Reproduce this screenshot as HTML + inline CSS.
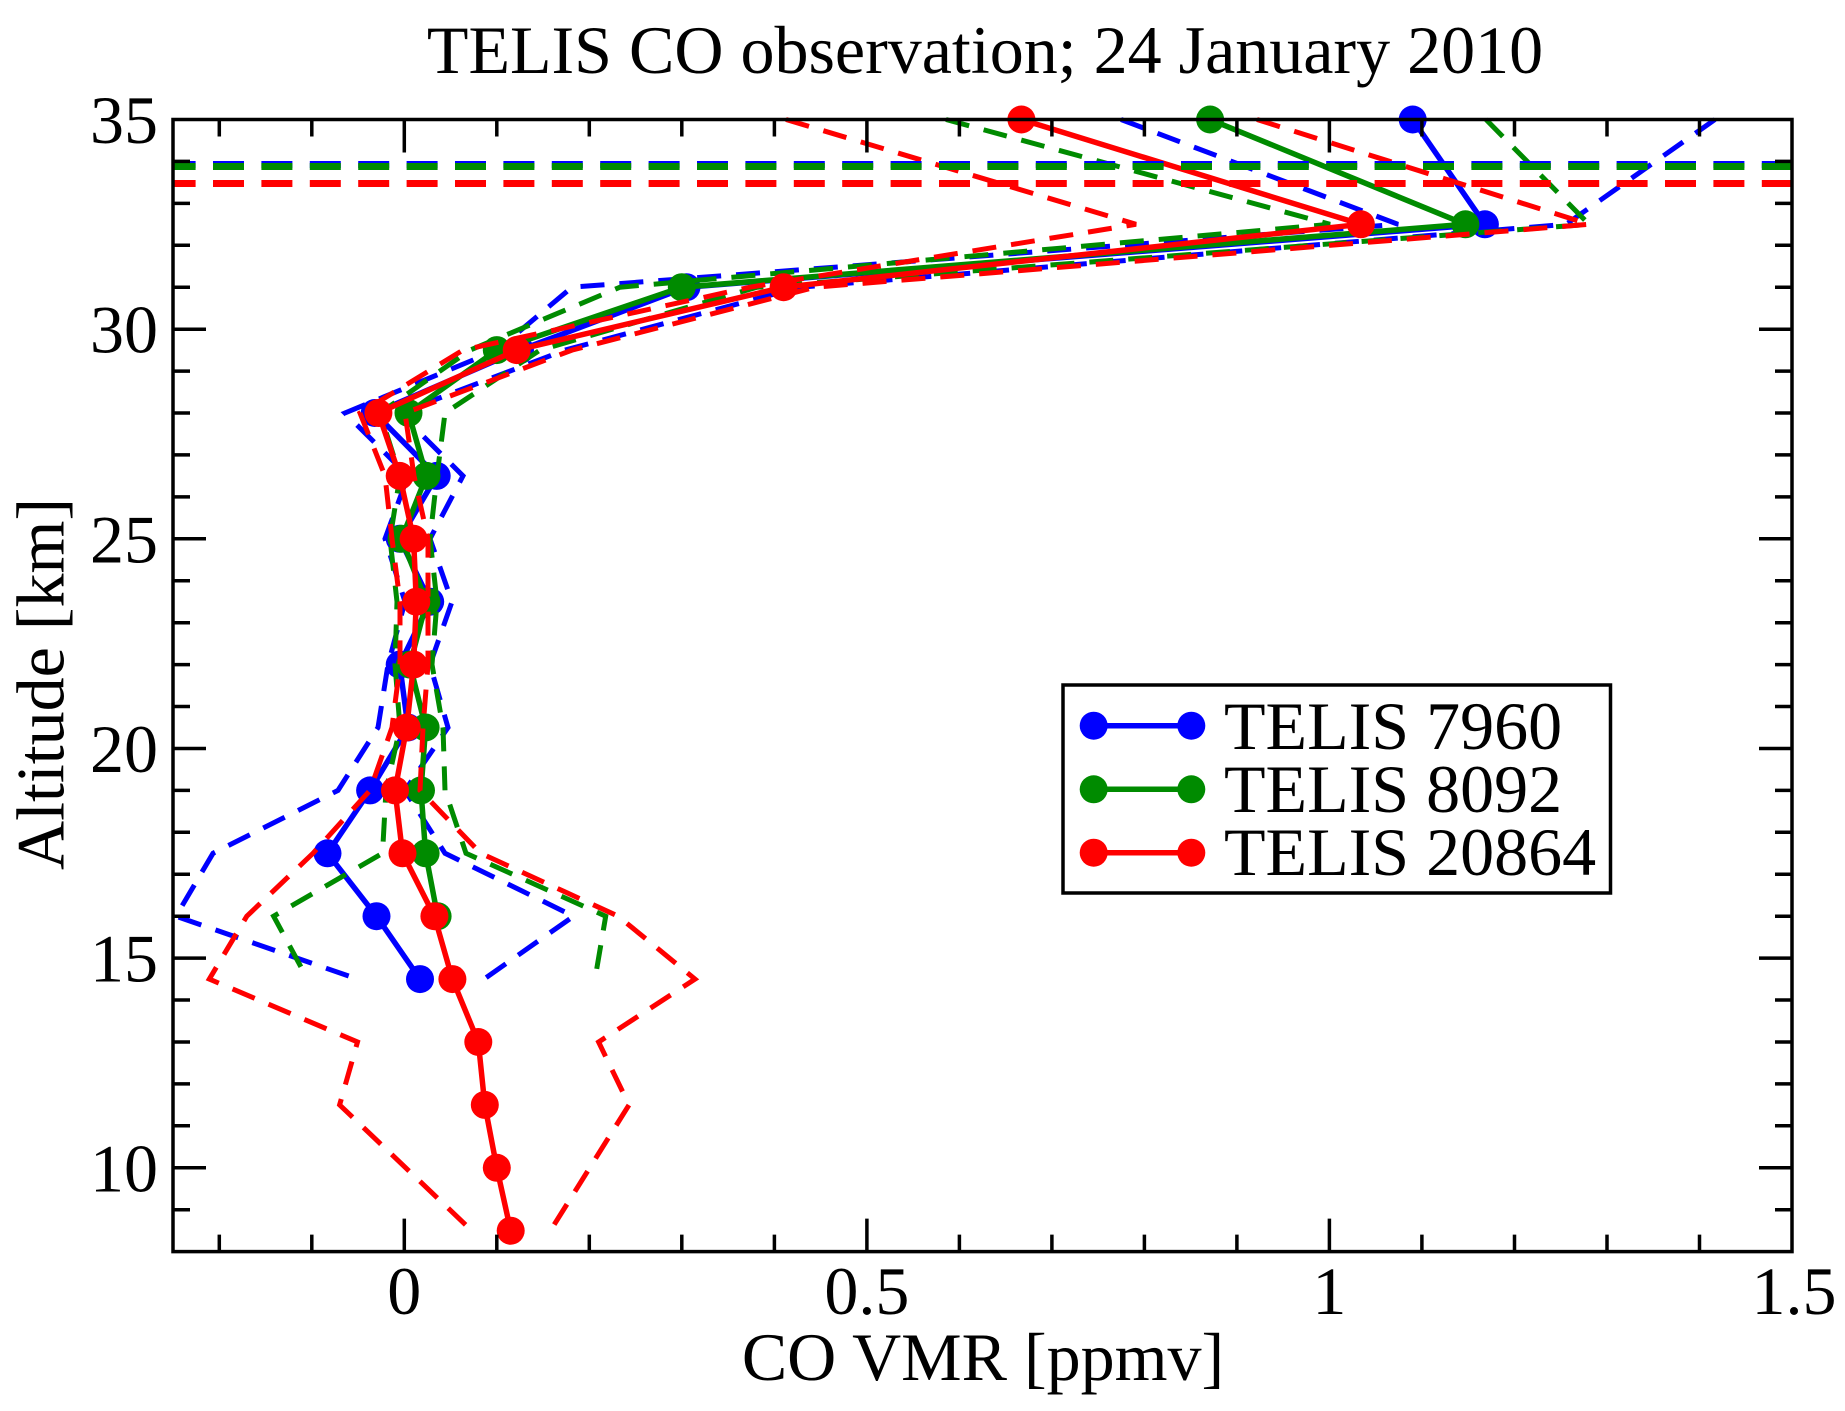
<!DOCTYPE html>
<html>
<head>
<meta charset="utf-8">
<style>
  html, body { margin: 0; padding: 0; background: #ffffff; }
  svg { display: block; }
  text { font-family: "Liberation Serif", "DejaVu Serif", serif; fill: #000; }
</style>
</head>
<body>
<svg width="1845" height="1411" viewBox="0 0 1845 1411" xmlns="http://www.w3.org/2000/svg">
  <rect x="0" y="0" width="1845" height="1411" fill="#ffffff"/>

  <!-- Title -->
  <text x="985" y="73" font-size="68" text-anchor="middle">TELIS CO observation; 24 January 2010</text>

  <!-- Data: BLUE -->
  <g fill="none" stroke="#0000ff" stroke-linejoin="miter" stroke-linecap="butt">
    <polyline stroke-width="5" stroke-dasharray="24 15" points="1121,119.5 1398,224.3 572,287.2 497,350.1 345,413 408,475.9 385,538.8 405,601.7 388,664.6 378,727.5 338,790.4 213,853.3 176,916.2 357.5,979.1"/>
    <polyline stroke-width="5" stroke-dasharray="24 15" points="1715,119.5 1566,224.3 800,287.2 565,350.1 400,413 463,475.9 430,538.8 452,601.7 430,664.6 448,727.5 405,790.4 445,853.3 573.6,916.2 484,979.1"/>
    <polyline stroke-width="5.5" points="1412.7,119.5 1484.9,224.3 686.5,287.2 520,350.1 374.7,413 436.7,475.9 399.7,538.8 430.2,601.7 399.7,664.6 408,727.5 370.1,790.4 327.5,853.3 376.5,916.2 420,979.1"/>
  </g>
  <g fill="#0000ff">
    <circle cx="1412.7" cy="119.5" r="14"/><circle cx="1484.9" cy="224.3" r="14"/><circle cx="686.5" cy="287.2" r="14"/>
    <circle cx="520" cy="350.1" r="14"/><circle cx="374.7" cy="413" r="14"/><circle cx="436.7" cy="475.9" r="14"/>
    <circle cx="399.7" cy="538.8" r="14"/><circle cx="430.2" cy="601.7" r="14"/><circle cx="399.7" cy="664.6" r="14"/>
    <circle cx="408" cy="727.5" r="14"/><circle cx="370.1" cy="790.4" r="14"/><circle cx="327.5" cy="853.3" r="14"/>
    <circle cx="376.5" cy="916.2" r="14"/><circle cx="420" cy="979.1" r="14"/>
  </g>

  <!-- Data: GREEN -->
  <g fill="none" stroke="#008b00" stroke-linejoin="miter" stroke-linecap="butt">
    <polyline stroke-width="5" stroke-dasharray="24 15" points="946,119.5 1330,224.3 620,287.2 470,350.1 380,413 400,475.9 390,538.8 397,601.7 395,664.6 400,727.5 386,790.4 382.5,853.3 273.6,916.2 307.5,979.1"/>
    <polyline stroke-width="5" stroke-dasharray="24 15" points="1486,119.5 1589,224.3 757,287.2 540,350.1 445,413 437,475.9 430,538.8 437,601.7 432,664.6 443,727.5 445,790.4 466,853.3 605.7,916.2 595,979.1"/>
    <polyline stroke-width="5.5" points="1210.1,119.5 1465.4,224.3 681.8,287.2 496.8,350.1 408.5,413 426.5,475.9 401.5,538.8 426.5,601.7 409.9,664.6 425.6,727.5 421,790.4 425.6,853.3 437.6,916.2"/>
  </g>
  <g fill="#008b00">
    <circle cx="1210.1" cy="119.5" r="14"/><circle cx="1465.4" cy="224.3" r="14"/><circle cx="681.8" cy="287.2" r="14"/>
    <circle cx="496.8" cy="350.1" r="14"/><circle cx="408.5" cy="413" r="14"/><circle cx="426.5" cy="475.9" r="14"/>
    <circle cx="401.5" cy="538.8" r="14"/><circle cx="426.5" cy="601.7" r="14"/><circle cx="409.9" cy="664.6" r="14"/>
    <circle cx="425.6" cy="727.5" r="14"/><circle cx="421" cy="790.4" r="14"/><circle cx="425.6" cy="853.3" r="14"/>
    <circle cx="437.6" cy="916.2" r="14"/>
  </g>

  <!-- Data: RED -->
  <g fill="none" stroke="#ff0000" stroke-linejoin="miter" stroke-linecap="butt">
    <polyline stroke-width="5" stroke-dasharray="24 15" points="786,119.5 1136,224.3 750,287.2 463,350.1 360,413 385,475.9 392,538.8 400,601.7 400,664.6 392,727.5 370,790.4 313,853.3 246.8,916.2 209.3,979.1 357.5,1042 339.6,1104.9 405.7,1167.8 471.8,1230.7"/>
    <polyline stroke-width="5" stroke-dasharray="24 15" points="1257,119.5 1589,224.3 815,287.2 572,350.1 405,413 414,475.9 428,538.8 428,601.7 428,664.6 423,727.5 420,790.4 480.7,853.3 618.2,916.2 695,979.1 598.6,1042 629,1104.9 589.7,1167.8 550.4,1230.7"/>
    <polyline stroke-width="5.5" points="1021.4,119.5 1360.9,224.3 783.6,287.2 516.7,350.1 378.4,413 399.7,475.9 413.6,538.8 416.3,601.7 413.6,664.6 406.7,727.5 395,790.4 402.5,853.3 434.4,916.2 452.4,979.1 478.3,1042 484.8,1104.9 496.8,1167.8 510.7,1230.7"/>
  </g>
  <g fill="#ff0000">
    <circle cx="1021.4" cy="119.5" r="14"/><circle cx="1360.9" cy="224.3" r="14"/><circle cx="783.6" cy="287.2" r="14"/>
    <circle cx="516.7" cy="350.1" r="14"/><circle cx="378.4" cy="413" r="14"/><circle cx="399.7" cy="475.9" r="14"/>
    <circle cx="413.6" cy="538.8" r="14"/><circle cx="416.3" cy="601.7" r="14"/><circle cx="413.6" cy="664.6" r="14"/>
    <circle cx="406.7" cy="727.5" r="14"/><circle cx="395" cy="790.4" r="14"/><circle cx="402.5" cy="853.3" r="14"/>
    <circle cx="434.4" cy="916.2" r="14"/><circle cx="452.4" cy="979.1" r="14"/><circle cx="478.3" cy="1042" r="14"/>
    <circle cx="484.8" cy="1104.9" r="14"/><circle cx="496.8" cy="1167.8" r="14"/><circle cx="510.7" cy="1230.7" r="14"/>
  </g>

  <!-- Horizontal dashed lines -->
  <g stroke-width="7" stroke-dasharray="31 17.4" stroke-dashoffset="8.4" fill="none">
    <line x1="173" y1="164.5" x2="1792" y2="164.5" stroke="#0000ff"/>
    <line x1="173" y1="166.5" x2="1792" y2="166.5" stroke="#008b00"/>
    <line x1="173" y1="183.5" x2="1792" y2="183.5" stroke="#ff0000"/>
  </g>

  <!-- Axes frame -->
  <rect x="173" y="119.5" width="1619" height="1132.1" fill="none" stroke="#000" stroke-width="3.5"/>

  <!-- Ticks -->
  <g stroke="#000" stroke-width="3.5" fill="none">
    <!-- left -->
    <path d="M173 329.2h33 M173 538.8h33 M173 748.5h33 M173 958.1h33 M173 1167.8h33
             M173 161.4h17 M173 203.4h17 M173 245.3h17 M173 287.2h17
             M173 371.1h17 M173 413h17 M173 454.9h17 M173 496.9h17
             M173 580.7h17 M173 622.7h17 M173 664.6h17 M173 706.5h17
             M173 790.4h17 M173 832.3h17 M173 874.2h17 M173 916.2h17
             M173 1000h17 M173 1042h17 M173 1083.9h17 M173 1125.8h17 M173 1209.7h17"/>
    <!-- right -->
    <path d="M1792 329.2h-33 M1792 538.8h-33 M1792 748.5h-33 M1792 958.1h-33 M1792 1167.8h-33
             M1792 161.4h-17 M1792 203.4h-17 M1792 245.3h-17 M1792 287.2h-17
             M1792 371.1h-17 M1792 413h-17 M1792 454.9h-17 M1792 496.9h-17
             M1792 580.7h-17 M1792 622.7h-17 M1792 664.6h-17 M1792 706.5h-17
             M1792 790.4h-17 M1792 832.3h-17 M1792 874.2h-17 M1792 916.2h-17
             M1792 1000h-17 M1792 1042h-17 M1792 1083.9h-17 M1792 1125.8h-17 M1792 1209.7h-17"/>
    <!-- bottom -->
    <path d="M404.3 1251.6v-33 M866.9 1251.6v-33 M1329.4 1251.6v-33
             M219.3 1251.6v-17 M311.8 1251.6v-17 M496.8 1251.6v-17 M589.3 1251.6v-17
             M681.8 1251.6v-17 M774.4 1251.6v-17 M959.4 1251.6v-17 M1051.9 1251.6v-17
             M1144.4 1251.6v-17 M1236.9 1251.6v-17 M1421.9 1251.6v-17 M1514.5 1251.6v-17
             M1607 1251.6v-17 M1699.5 1251.6v-17"/>
    <!-- top -->
    <path d="M404.3 119.5v33 M866.9 119.5v33 M1329.4 119.5v33
             M219.3 119.5v17 M311.8 119.5v17 M496.8 119.5v17 M589.3 119.5v17
             M681.8 119.5v17 M774.4 119.5v17 M959.4 119.5v17 M1051.9 119.5v17
             M1144.4 119.5v17 M1236.9 119.5v17 M1421.9 119.5v17 M1514.5 119.5v17
             M1607 119.5v17 M1699.5 119.5v17"/>
  </g>

  <!-- Y tick labels -->
  <g font-size="68" text-anchor="end">
    <text x="158" y="143">35</text>
    <text x="158" y="352.7">30</text>
    <text x="158" y="562.3">25</text>
    <text x="158" y="772">20</text>
    <text x="158" y="981.6">15</text>
    <text x="158" y="1191.3">10</text>
  </g>

  <!-- X tick labels -->
  <g font-size="68" text-anchor="middle">
    <text x="404.3" y="1314">0</text>
    <text x="866.9" y="1314">0.5</text>
    <text x="1329.4" y="1314">1</text>
    <text x="1794" y="1314">1.5</text>
  </g>

  <!-- Axis titles -->
  <text x="983" y="1380" font-size="68" text-anchor="middle">CO VMR [ppmv]</text>
  <text transform="translate(63.5,684) rotate(-90)" x="0" y="0" font-size="68" text-anchor="middle">Altitude [km]</text>

  <!-- Legend -->
  <rect x="1063" y="685" width="547.5" height="208" fill="#ffffff" stroke="#000" stroke-width="3.5"/>
  <g stroke-width="5.5">
    <line x1="1093.7" y1="725.7" x2="1191.3" y2="725.7" stroke="#0000ff"/>
    <line x1="1093.7" y1="789.3" x2="1191.3" y2="789.3" stroke="#008b00"/>
    <line x1="1093.7" y1="852.7" x2="1191.3" y2="852.7" stroke="#ff0000"/>
  </g>
  <circle cx="1093.7" cy="725.7" r="14" fill="#0000ff"/><circle cx="1191.3" cy="725.7" r="14" fill="#0000ff"/>
  <circle cx="1093.7" cy="789.3" r="14" fill="#008b00"/><circle cx="1191.3" cy="789.3" r="14" fill="#008b00"/>
  <circle cx="1093.7" cy="852.7" r="14" fill="#ff0000"/><circle cx="1191.3" cy="852.7" r="14" fill="#ff0000"/>
  <g font-size="68">
    <text x="1224" y="749">TELIS 7960</text>
    <text x="1224" y="812">TELIS 8092</text>
    <text x="1224" y="875">TELIS 20864</text>
  </g>
</svg>
</body>
</html>
